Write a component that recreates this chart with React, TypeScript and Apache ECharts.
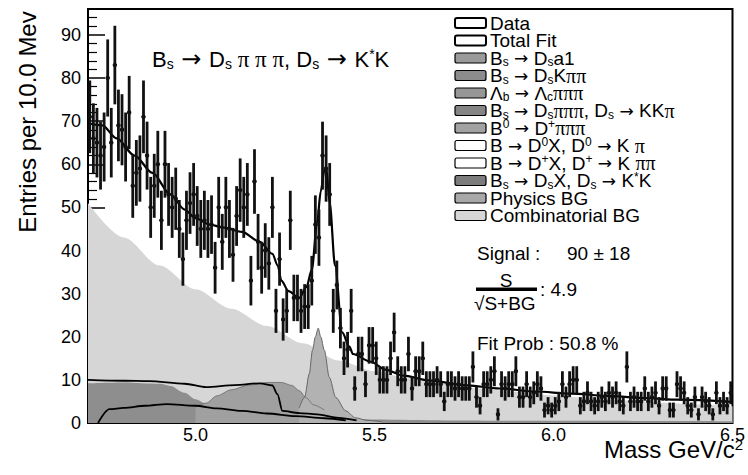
import React, { useEffect, useRef } from 'react';
import * as echarts from 'echarts';

// ---------- data ----------
const binLow = 4.7;
const binWidth = 0.01;
const counts = [
  71, 66, 65, 62, 64, 80, 65, 83, 69, 68,
  64, 72, 55, 58, 59, 71, 62, 50, 55, 60,
  47, 60, 53, 50, 52, 45, 38, 47, 51, 53,
  48, 45, 47, 45, 46, 36, 50, 42, 50, 45,
  39, 48, 54, 50, 53, 33, 56, 42, 36, 40,
  37, 50, 26, 38, 24, 26, 47, 29, 29, 26,
  27, 27, 33, 46, 43, 62, 59, 53, 26, 32,
  22, 15, 17, 26, 8, 16, 16, 9, 18, 18,
  15, 10, 10, 10, 15, 21, 12, 10, 10, 16,
  8, 12, 12, 15, 9, 9, 9, 10, 9, 5,
  9, 9, 8, 9, 8, 8, 8, 13, 6, 4,
  9, 9, 10, 12, 2, 9, 8, 9, 9, 12,
  6, 6, 9, 6, 7, 9, 8, 3, 4, 3,
  4, 5, 9, 6, 9, 10, 10, 4, 5, 7,
  5, 4, 5, 6, 5, 7, 6, 7, 5, 4,
  13, 5, 6, 5, 5, 8, 5, 6, 7, 4,
  8, 8, 3, 3, 9, 8, 7, 4, 3, 6,
  2, 6, 5, 4, 2, 7, 4, 5, 4, 7,
];

const fitMass = [4.70, 4.74, 4.78, 4.83, 4.88, 4.93, 4.97, 5.00, 5.04, 5.08, 5.13, 5.18, 5.215, 5.23, 5.24, 5.26, 5.29, 5.31, 5.325, 5.34, 5.35, 5.36, 5.365, 5.375, 5.39, 5.41, 5.43, 5.44, 5.49, 5.53, 5.58, 5.65, 5.75, 5.85, 5.95, 6.05, 6.15, 6.25, 6.35, 6.50];
const fitValue = [69.5, 69, 66, 62, 58, 53, 49.5, 47.5, 46, 45.3, 44.3, 42, 39.2, 36.5, 33, 30.6, 29, 31.5, 35.5, 46.5, 53.7, 58.5, 59.5, 51, 36.5, 21, 17.7, 16, 14.2, 12.4, 11, 9.9, 8.8, 8, 7.3, 6.8, 6.3, 5.8, 5.4, 4.9];

const combMass = [4.70, 4.80, 4.90, 5.00, 5.10, 5.20, 5.30, 5.40, 5.50, 5.60, 5.70, 5.80, 5.90, 6.00, 6.10, 6.20, 6.30, 6.40, 6.50];
const combValue = [51, 43, 36.5, 31, 26.5, 22.5, 18.5, 14.5, 12, 10.3, 9, 8, 7.2, 6.4, 5.8, 5.2, 4.7, 4.3, 3.9];

const physMass = [4.70, 4.80, 4.90, 4.93, 4.97, 5.00, 5.03, 5.10, 5.20, 5.30, 5.40, 5.50, 5.70, 6.00, 6.50];
const physValue = [9.2, 9.4, 9.1, 8.6, 7, 5.5, 4.5, 3.8, 3.0, 2.2, 1.3, 0.8, 0.6, 0.5, 0.4];

const humpMass = [5.00, 5.03, 5.06, 5.10, 5.15, 5.20, 5.24, 5.27, 5.29, 5.31, 5.33, 5.36];
const humpValue = [3.8, 4.6, 6.3, 7.7, 8.8, 9.4, 9.4, 8.7, 7.5, 5.8, 4.2, 3];

const peakMass = [5.29, 5.305, 5.318, 5.327, 5.335, 5.343, 5.35, 5.36, 5.374, 5.392, 5.42, 5.447, 5.48, 5.52];
const peakValue = [3.5, 6, 11.4, 16.9, 20, 22, 20, 16.9, 10.6, 5.9, 2.8, 1.2, 0.6, 0.3];

const d0Mass = [4.70, 4.80, 4.87, 4.97, 5.03, 5.11, 5.18, 5.215, 5.229, 5.243, 5.29, 5.34, 5.40, 5.45];
const d0Value = [10, 9.8, 9.7, 9.1, 8.3, 8.8, 9.2, 8.7, 6.7, 2.8, 2.3, 2, 1.2, 0.6];

const dpMass = [4.728, 4.76, 4.80, 4.86, 4.92, 5.0, 5.06, 5.13, 5.20, 5.28, 5.36, 5.42];
const dpValue = [0, 3.2, 3.5, 4.0, 4.4, 4.0, 3.4, 2.8, 2.2, 1.6, 1.1, 0.6];

const xTickLabels = [5.0, 5.5, 6.0, 6.5];

const legendLabels = [
  '{n|Data}',
  '{n|Total Fit}',
  '{n|B}{s|s}{a| → }{n|D}{s|s}{n|a1}',
  '{n|B}{s|s}{a| → }{n|D}{s|s}{n|K}{p|ππ}',
  '{n|Λ}{s|b}{a| → }{n|Λ}{s|c}{p|πππ}',
  '{n|B}{s|s}{a| → }{n|D}{s|s}{p|πππ}{n|, D}{s|s}{a| → }{n|KK}{p|π}',
  '{n|B}{u|0}{a| → }{n|D}{u|+}{p|πππ}',
  '{n|B}{a| → }{n|D}{u|0}{n|X, D}{u|0}{a| → }{n|K }{p|π}',
  '{n|B}{a| → }{n|D}{u|+}{n|X, D}{u|+}{a| → }{n|K }{p|ππ}',
  '{n|B}{s|s}{a| → }{n|D}{s|s}{n|X, D}{s|s}{a| → }{n|K}{u|*}{n|K}',
  '{n|Physics BG}',
  '{n|Combinatorial BG}',
];
const legendFills = ['#ffffff', '#ffffff', '#9a9a9a', '#8c8c8c', '#969696', '#858585', '#a2a2a2', '#ffffff', '#ffffff', '#7c7c7c', '#a8a8a8', '#d6d6d6'];

const FONT = '"Liberation Sans", Arial, Helvetica, sans-serif';
const SERIF = '"Liberation Serif", "Times New Roman", serif';
const ARROW = '"DejaVu Sans", sans-serif';

const pairs = (xs: number[], ys: number[]) => xs.map((x, i) => [x, ys[i]]);

export default function App() {
  const ref = useRef<HTMLDivElement>(null);
  useEffect(() => {
    if (!ref.current) return;
    const chart = echarts.init(ref.current, null, { renderer: 'svg' });

    const dataPoints = counts.map((c, i) => [binLow + binWidth * (i + 0.5), c, Math.sqrt(c)]);

    const rich: any = {
      n: { fontSize: 19, fontFamily: FONT, lineHeight: 20, color: '#000' },
      a: { fontSize: 17, fontFamily: ARROW, lineHeight: 20, color: '#000' },
      s: { fontSize: 12, fontFamily: FONT, lineHeight: 6, verticalAlign: 'bottom', color: '#000' },
      u: { fontSize: 12, fontFamily: FONT, lineHeight: 6, verticalAlign: 'top', color: '#000' },
      p: { fontSize: 20, fontFamily: SERIF, lineHeight: 20, color: '#000' },
    };
    const titleRich: any = {
      t: { fontSize: 22, fontFamily: FONT, lineHeight: 24, color: '#000' },
      ta: { fontSize: 24, fontFamily: ARROW, lineHeight: 24, color: '#000' },
      ts: { fontSize: 14, fontFamily: FONT, lineHeight: 7, verticalAlign: 'bottom', color: '#000' },
      tu: { fontSize: 14, fontFamily: FONT, lineHeight: 7, verticalAlign: 'top', color: '#000' },
      tp: { fontSize: 23, fontFamily: SERIF, lineHeight: 24, color: '#000' },
    };

    const rowY = (i: number) => 23 + 17.5 * i;
    const graphics: any[] = [];
    legendLabels.forEach((lab, i) => {
      graphics.push({
        type: 'rect', shape: { x: 455, y: rowY(i) - 5, width: 31, height: 10, r: 2 },
        style: { fill: legendFills[i], stroke: '#000', lineWidth: i < 2 ? 2 : 1.2 },
      });
      graphics.push({
        type: 'text', x: 490, y: rowY(i),
        style: { text: lab, rich, align: 'left', verticalAlign: 'middle' },
      });
    });

    graphics.push({
      type: 'text', x: 152, y: 59,
      style: {
        text: '{t|B}{ts|s}{ta| → }{t|D}{ts|s}{tp| π π π}{t|, D}{ts|s}{ta| → }{t|K}{tu|*}{t|K}',
        rich: titleRich, align: 'left', verticalAlign: 'middle',
      },
    });
    const plain = (x: number, y: number, text: string, size: number, align = 'left') => ({
      type: 'text', x, y,
      style: { text, font: `${size}px ${FONT}`, fill: '#000', align, verticalAlign: 'middle' },
    });
    graphics.push(plain(477, 253, 'Signal :', 19));
    graphics.push(plain(567, 253, '90 ± 18', 19));
    graphics.push(plain(506, 280, 'S', 19, 'center'));
    graphics.push({ type: 'rect', shape: { x: 476, y: 287.5, width: 61, height: 3.5 }, style: { fill: '#000' } });
    graphics.push(plain(474, 303, '√S+BG', 19));
    graphics.push(plain(540, 289, ': 4.9', 19));
    graphics.push(plain(477, 343, 'Fit Prob : 50.8 %', 19));
    graphics.push({
      type: 'text', x: 27, y: 122, rotation: Math.PI / 2,
      style: { text: 'Entries per 10.0 Mev', font: `24px ${FONT}`, fill: '#000', align: 'center', verticalAlign: 'middle' },
    });
    graphics.push({
      type: 'text', x: 743, y: 449,
      style: {
        text: '{a|Mass GeV/c}{b|2}',
        rich: {
          a: { fontSize: 24, fontFamily: FONT, lineHeight: 24, color: '#000' },
          b: { fontSize: 15, fontFamily: FONT, lineHeight: 8, verticalAlign: 'top', color: '#000' },
        },
        align: 'right', verticalAlign: 'middle',
      },
    });

    const area = (name: string, xs: number[], ys: number[], color: string, stroke = 0, strokeColor = '#555') => ({
      name, type: 'line', data: pairs(xs, ys), showSymbol: false, smooth: 0.3, smoothMonotone: 'x',
      lineStyle: { width: stroke, color: strokeColor }, areaStyle: { color, opacity: 1 }, silent: true, z: 2,
    });
    const curve = (name: string, xs: number[], ys: number[], width: number) => ({
      name, type: 'line', data: pairs(xs, ys), showSymbol: false, smooth: 0.3, smoothMonotone: 'x',
      lineStyle: { width, color: '#000' }, silent: true, z: 3,
    });

    chart.setOption({
      animation: false,
      grid: { left: 88, right: 12, top: 9, bottom: 52, show: true, borderColor: '#000', borderWidth: 2, backgroundColor: 'transparent' },
      xAxis: {
        type: 'value', min: 4.7, max: 6.5,
        axisLine: { show: false }, axisTick: { show: false }, splitLine: { show: false },
        axisLabel: {
          customValues: xTickLabels, formatter: (v: number) => v.toFixed(1),
          fontSize: 18, fontFamily: FONT, color: '#000', margin: 3,
        },
      },
      yAxis: {
        type: 'value', min: 0, max: 96, interval: 10,
        axisLine: { show: false }, splitLine: { show: false },
        axisTick: { show: true, inside: true, length: 17, lineStyle: { color: '#000', width: 1.5 } },
        minorTick: { show: true, splitNumber: 5, length: 9, lineStyle: { color: '#000', width: 1.2 } },
        axisLabel: {
          formatter: (v: number) => (v % 10 === 0 ? String(v) : ''),
          fontSize: 18, fontFamily: FONT, color: '#000', margin: 7,
        },
      },
      graphic: graphics,
      series: [
        area('Combinatorial BG', combMass, combValue, '#d6d6d6'),
        area('Physics BG', physMass, physValue, '#8e8e8e'),
        area('Hump', humpMass, humpValue, '#a0a0a0', 0.8, '#6a6a6a'),
        area('Peak', peakMass, peakValue, '#b2b2b2', 1, '#666'),
        curve('D0X', d0Mass, d0Value, 1.8),
        curve('DpX', dpMass, dpValue, 1.8),
        curve('Total Fit', fitMass, fitValue, 2.2),
        {
          name: 'Data', type: 'custom', data: dataPoints, encode: { x: 0, y: 1 }, z: 5, silent: true, clip: true,
          renderItem: (params: any, api: any) => {
            const x = api.value(0), y = api.value(1), e = api.value(2);
            const top = api.coord([x, y + e]);
            const bot = api.coord([x, Math.max(y - e, 0)]);
            const c = api.coord([x, y]);
            const hw = api.size([binWidth, 0])[0] / 2;
            return {
              type: 'group',
              children: [
                { type: 'line', shape: { x1: top[0], y1: top[1], x2: bot[0], y2: bot[1] }, style: { stroke: '#111', lineWidth: 2.8 } },
                { type: 'line', shape: { x1: c[0] - hw, y1: c[1], x2: c[0] + hw, y2: c[1] }, style: { stroke: '#111', lineWidth: 2 } },
                { type: 'circle', shape: { cx: c[0], cy: c[1], r: 2.2 }, style: { fill: '#111' } },
              ],
            };
          },
        },
      ],
    });
    return () => chart.dispose();
  }, []);
  return <div ref={ref} style={{ position: 'fixed', left: 0, top: 0, width: 748, height: 475, background: '#fff' }} />;
}
